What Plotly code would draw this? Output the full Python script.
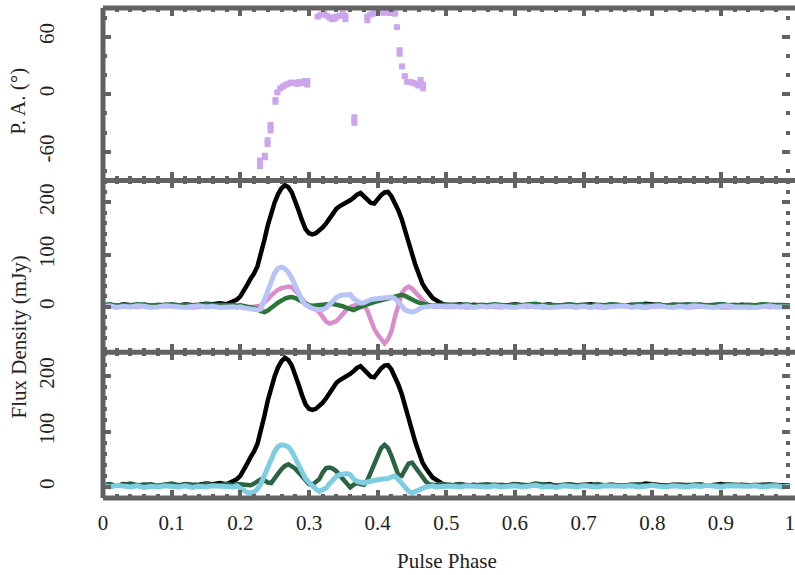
import plotly.graph_objects as go
from plotly.subplots import make_subplots

# ---------------- data ----------------
phase_a = [round(0.01 * i, 3) for i in range(19)]            # 0.00 .. 0.18
phase_b = [round(0.185 + 0.005 * i, 3) for i in range(64)]   # 0.185 .. 0.50
phase_c = [round(0.51 + 0.01 * i, 3) for i in range(50)]     # 0.51 .. 1.00
phase = phase_a + phase_b + phase_c

stokes_I = ([3, 4, 2, 5, 3, 2, 4, 3, 1, 4, 3, 2, 5, 3, 4, 6, 5, 7, 5] +
            [8, 10, 14, 20, 30, 42, 54, 64,
             78, 100, 128, 156, 180, 200, 216, 227,
             233, 229, 219, 203, 184, 165, 149, 141,
             139, 141, 146, 152, 160, 170, 181, 188,
             193, 196, 200, 204, 209, 215, 218, 212,
             205, 199, 198, 207, 214, 219, 220, 212,
             200, 185, 168, 148, 126, 102, 80, 60,
             45, 34, 24, 17, 13, 8, 5, 4] +
            [3, 5, 2, 4, 3, 1, 4, 2, 3, 5, 3, 2, 4, 3, 5, 2, 3, 4, 2, 3,
             5, 3, 2, 4, 3, 2, 4, 3, 6, 4, 3, 2, 4, 3, 2, 3, 4, 2, 3, 5,
             3, 2, 4, 3, 2, 4, 3, 2, 3, 2])

mid_lavender = ([0, 2, -1, 1, 0, 2, 1, -1, 0, 2, 1, 0, -1, 1, 2, 0, 1, -1, 0] +
                [1, 0, -1, 0, -2, -3, -4, -5,
                 -6, -4, 12, 30, 50, 65, 74, 76,
                 73, 66, 55, 40, 25, 12, 4, -1,
                 -3, -5, -6, -5, -2, 5, 12, 18,
                 22, 23, 25, 24, 16, 10, 7, 8,
                 12, 14, 15, 16, 16, 17, 18, 19,
                 16, 10, 2, -6, -9, -10, -8, -4,
                 -1, 0, 1, 0, 2, 1, 0, 1] +
                [1, 0, 2, -1, 1, 0, 2, 1, 0, -1, 1, 2, 0, 1, -1, 0, 2, 1, 0, 1,
                 -1, 2, 0, 1, 0, 2, -1, 1, 0, 1, 2, 0, -1, 1, 0, 2, 1, 0, -1, 1,
                 2, 0, 1, 0, -1, 1, 2, 0, 1, 0])

mid_pink = ([1, 0, 2, 1, -1, 0, 2, 1, 0, 1, 2, 0, 1, -1, 0, 2, 1, 0, 1] +
            [0, 1, 0, 1, 0, -1, 0, 0,
             1, 3, 8, 15, 22, 28, 33, 36,
             38, 39, 38, 32, 24, 15, 6, 0,
             -3, -5, -10, -20, -28, -32, -30, -27,
             -20, -12, -5, 0, 3, 6, 7, 3,
             -7, -25, -42, -53, -63, -70, -62, -47,
             -20, 2, 25, 35, 39, 35, 28, 20,
             12, 7, 3, 1, 0, 1, 0, 0] +
            [0, 1, -1, 0, 2, 1, 0, -1, 1, 0, 2, 0, 1, -1, 0, 1, 2, 0, -1, 1,
             0, 1, -1, 0, 2, 1, 0, 1, -1, 0, 1, 2, 0, 1, -1, 0, 1, 0, 2, -1,
             0, 1, 0, -1, 1, 2, 0, 1, 0, 1])

mid_green = ([3, 5, 2, 4, 3, 5, 4, 2, 4, 3, 5, 3, 4, 2, 3, 5, 4, 3, 4] +
             [3, 4, 2, 3, 2, 1, 0, -2,
              -4, -8, -10, -7, -3, 3, 8, 13,
              16, 18, 19, 17, 13, 9, 5, 3,
              2, 3, 3, 4, 5, 7, 6, 4,
              3, 1, -2, -5, -6, -3, 0, 3,
              5, 7, 9, 11, 13, 15, 17, 19,
              21, 23, 23, 21, 17, 14, 11, 8,
              6, 4, 3, 2, 3, 4, 3, 4] +
             [4, 3, 5, 2, 4, 3, 5, 4, 2, 4, 3, 5, 6, 3, 4, 2, 4, 5, 3, 4,
              2, 4, 3, 5, 4, 2, 3, 5, 4, 3, 5, 2, 4, 3, 5, 4, 2, 3, 4, 5,
              3, 4, 2, 4, 3, 5, 4, 3, 4, 3])

bot_cyan = ([2, 0, 3, 1, 0, 2, -1, 1, 0, 2, 1, 0, 2, -1, 1, 0, 2, 1, 0] +
            [1, 0, 2, -1, -6, -10, -11, -9,
             -4, 6, 20, 38, 52, 64, 73, 76,
             75, 72, 64, 52, 38, 26, 15, 8,
             1, -4, -8, -6, -2, 6, 14, 19,
             22, 23, 24, 22, 14, 10, 8, 7,
             9, 11, 12, 13, 14, 14, 15, 18,
             20, 14, 6, -2, -8, -11, -8, -4,
             -2, 0, 1, 2, 0, 1, 2, 1] +
            [1, 0, 2, 1, -1, 0, 2, 0, 1, 2, 0, 1, 3, 0, 1, -1, 2, 1, 0, 2,
             1, 0, 2, 1, 0, 1, 2, 0, 1, 3, 1, 0, 2, 1, 0, 2, 1, 3, 1, 0,
             2, 1, 0, 1, 2, 0, 1, 2, 0, 1])

bot_green = ([3, 5, 2, 4, 6, 3, 4, 5, 2, 4, 6, 3, 5, 4, 3, 5, 4, 3, 5] +
             [4, 3, 5, 4, 3, 2, 3, 6,
              10, 14, 12, 8, 7, 14, 24, 32,
              38, 41, 38, 33, 26, 18, 10, 5,
              4, 8, 14, 26, 34, 35, 33, 28,
              20, 12, 4, -1, 4, 7, 5, 4,
              12, 26, 42, 58, 70, 76, 70, 56,
              36, 22, 20, 30, 42, 44, 36, 26,
              17, 10, 5, 4, 3, 5, 4, 3] +
             [3, 5, 4, 2, 4, 5, 3, 4, 2, 5, 4, 3, 6, 4, 3, 2, 4, 5, 3, 4,
              2, 5, 3, 4, 2, 3, 4, 5, 3, 4, 2, 3, 5, 4, 3, 4, 5, 2, 4, 3,
              5, 4, 3, 2, 4, 3, 5, 3, 2, 3])

pa_phase = [0.2286, 0.2358, 0.2397, 0.2440, 0.2512, 0.2540, 0.2580, 0.2620, 0.2660,
            0.2700, 0.2740, 0.2780, 0.2820, 0.2860, 0.2900, 0.2940, 0.2975,
            0.3127, 0.3170, 0.3223, 0.3260, 0.3300, 0.3340, 0.3380, 0.3415,
            0.3450, 0.3490, 0.3530,
            0.3660,
            0.3850, 0.3890, 0.3930, 0.3970, 0.4010, 0.4050, 0.4090, 0.4130,
            0.4170, 0.4210, 0.4250, 0.4280, 0.4320, 0.4355, 0.4395, 0.4430,
            0.4470, 0.4510, 0.4550, 0.4590, 0.4625, 0.4660]
pa_deg = [-72, -65, -50, -35, -7, 2, 6, 8, 10,
          11, 12, 12, 11, 12, 12, 13, 12,
          81, 83, 84, 82, 80, 79, 80, 81,
          82, 83, 80,
          -27,
          79, 83, 84, 85, 86, 86, 85, 86,
          85, 85, 84, 70, 44, 29, 19, 13,
          13, 12, 11, 10, 13, 8]
pa_err = [6, 4, 5, 6, 4, 3, 3, 3, 3,
          3, 3, 3, 3, 4, 3, 4, 5,
          3, 3, 3, 3, 3, 4, 4, 3,
          3, 4, 5,
          6,
          5, 3, 3, 3, 3, 3, 3, 3,
          3, 3, 3, 3, 5, 3, 3, 3,
          3, 3, 3, 4, 5, 5]

pa_ticks = [-60, 0, 60]
flux_ticks = [0, 100, 200]

# ---------------- styling ----------------
GRAY = "#626262"
FONT = "Liberation Serif"
C_PA = "#cda5ec"
C_LAV = "#b8c4f8"
C_PINK = "#db8ccc"
C_GMID = "#2a7639"
C_GBOT = "#2c6342"
C_CYAN = "#7ecde0"

fig = make_subplots(rows=3, cols=1, vertical_spacing=0)

fig.add_trace(go.Scatter(
    x=pa_phase, y=pa_deg, mode="markers",
    marker=dict(color=C_PA, size=6),
    error_y=dict(type="data", array=pa_err, color=C_PA, thickness=6, width=0),
    showlegend=False), row=1, col=1)

for ys, col, w in [(stokes_I, "#000000", 4.5), (mid_pink, C_PINK, 4.5),
                   (mid_green, C_GMID, 4.5), (mid_lavender, C_LAV, 5)]:
    fig.add_trace(go.Scatter(x=phase, y=ys, mode="lines",
                             line=dict(color=col, width=w), showlegend=False),
                  row=2, col=1)

for ys, col, w in [(stokes_I, "#000000", 4.5), (bot_green, C_GBOT, 4.5),
                   (bot_cyan, C_CYAN, 5)]:
    fig.add_trace(go.Scatter(x=phase, y=ys, mode="lines",
                             line=dict(color=col, width=w), showlegend=False),
                  row=3, col=1)

tick_font = dict(family=FONT, size=21, color="#222222")
tick_common = dict(showline=False, ticks="inside", ticklen=8, tickwidth=4,
                   tickcolor=GRAY, mirror="allticks", showgrid=False,
                   zeroline=False)
minor_common = dict(ticks="inside", ticklen=4, tickwidth=4, tickcolor=GRAY,
                    showgrid=False)

b1, b2 = 0.648, 0.2973
for i, dom in zip([1, 2, 3], [[b1, 1.0], [b2, b1], [0.0, b2]]):
    fig.update_xaxes(range=[0, 1.0005], tick0=0, dtick=0.1,
                     minor=dict(dtick=0.02, **minor_common),
                     showticklabels=(i == 3), ticklabelstandoff=10,
                     ticklabeloverflow="allow", tickfont=tick_font,
                     **tick_common, row=i, col=1)
    fig.update_yaxes(domain=dom, row=i, col=1)

fig.update_yaxes(range=[-90, 90], tickvals=pa_ticks,
                 ticktext=[str(v) for v in pa_ticks],
                 minor=dict(tickvals=[-80, -60, -40, -20, 0, 20, 40, 60, 80],
                            **minor_common),
                 tickangle=-90, ticklabelstandoff=44, tickfont=tick_font,
                 **tick_common, row=1, col=1)
fig.update_yaxes(range=[-87, 242], tickvals=flux_ticks,
                 minor=dict(dtick=20, tick0=0, **minor_common),
                 tickangle=-90, ticklabelstandoff=44, tickfont=tick_font,
                 **tick_common, row=2, col=1)
fig.update_yaxes(range=[-20, 243], tickvals=flux_ticks,
                 minor=dict(dtick=20, tick0=0, **minor_common),
                 tickangle=-90, ticklabelstandoff=44, tickfont=tick_font,
                 **tick_common, row=3, col=1)

# frame (left, top, panel separators, bottom)
for yv in [0, b2, b1, 1]:
    fig.add_shape(type="line", xref="paper", yref="paper", x0=0, x1=1.01,
                  y0=yv, y1=yv, line=dict(color=GRAY, width=5))
fig.add_shape(type="line", xref="paper", yref="paper", x0=0, x1=0,
              y0=0, y1=1, line=dict(color=GRAY, width=5))

title_font = dict(family=FONT, size=21, color="#222222")
fig.add_annotation(text="P. A. (°)", xref="paper", yref="paper",
                   x=-0.123, y=0.81, textangle=-90, showarrow=False,
                   font=title_font, xanchor="center", yanchor="middle")
fig.add_annotation(text="Flux Density (mJy)", xref="paper", yref="paper",
                   x=-0.123, y=0.3286, textangle=-90, showarrow=False,
                   font=title_font, xanchor="center", yanchor="middle")
fig.add_annotation(text="Pulse Phase", xref="paper", yref="paper",
                   x=0.5014, y=-0.1286, showarrow=False,
                   font=title_font, xanchor="center", yanchor="middle")

fig.update_layout(width=795, height=575,
                  font=dict(family=FONT, size=21, color="#222222"),
                  margin=dict(l=103, r=0, t=8, b=77),
                  paper_bgcolor="white", plot_bgcolor="white",
                  showlegend=False)

fig.write_html("out.html")
